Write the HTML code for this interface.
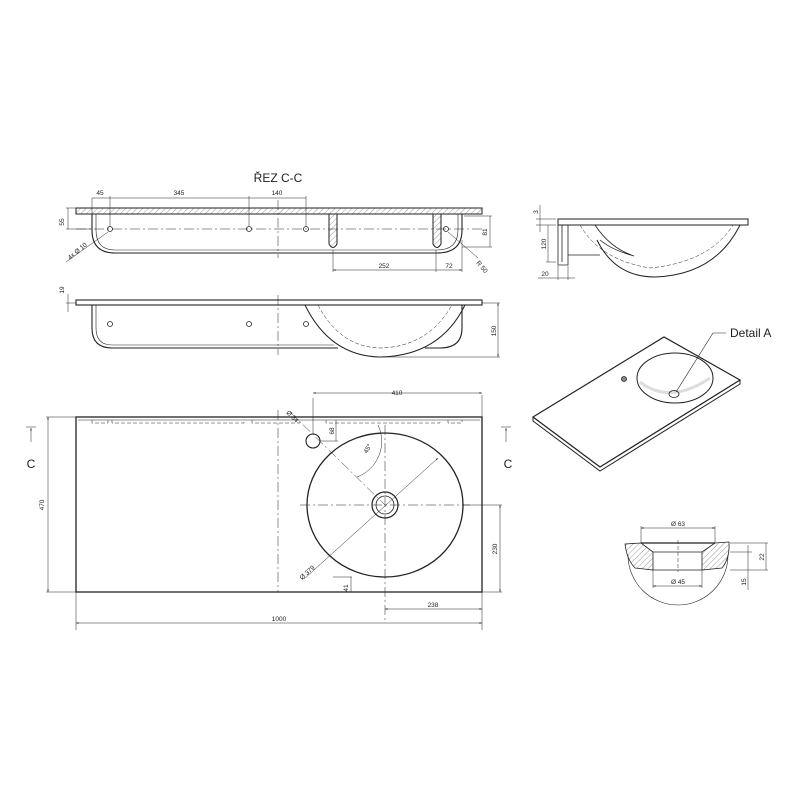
<!DOCTYPE html>
<html><head><meta charset="utf-8"><style>
html,body{margin:0;padding:0;background:#fff}
svg{display:block}
text{font-family:"Liberation Sans",sans-serif;fill:#222}
</style></head><body>
<svg width="800" height="800" viewBox="0 0 800 800" xmlns="http://www.w3.org/2000/svg">
<defs>
<pattern id="h" width="4" height="4" patternUnits="userSpaceOnUse" patternTransform="rotate(45)">
<line x1="0" y1="0" x2="0" y2="4" stroke="#555" stroke-width="0.6"/></pattern>
<marker id="a" viewBox="0 0 6 6" refX="6" refY="3" markerWidth="5" markerHeight="5" orient="auto-start-reverse"><path d="M0,1 L6,3 L0,5z" fill="#333"/></marker>
</defs>
<g fill="none" stroke="#222" stroke-width="0.8">
<!-- Section C-C -->
<text x="278" y="182" font-size="12" text-anchor="middle" stroke="none">ŘEZ C-C</text>
<rect x="76" y="208" width="406" height="6" fill="url(#h)" stroke-width="1"/>
<path d="M92,214 V230 Q92,253 115,253 H437 Q462,253 462,230 V214" stroke-width="1.1"/>
<path d="M96,214 V230 Q96,250 115,250 H437 Q458,250 458,230 V214" stroke-width="0.6"/>
<path d="M329,214 V244 Q333,251 337,244 V214 M433,214 V244 Q437,251 441,244 V214" fill="url(#h)" stroke-width="1"/>
<line x1="76" y1="229" x2="482" y2="229" stroke-dasharray="10,3,2,3" stroke-width="0.5"/>
<line x1="278" y1="200" x2="278" y2="258" stroke-dasharray="10,3,2,3" stroke-width="0.5"/>
<circle cx="110" cy="229" r="2.5"/><circle cx="249" cy="229" r="2.5"/><circle cx="306" cy="229" r="2.5"/><circle cx="446" cy="229" r="2.5"/>
<g stroke-width="0.5">
<line x1="92" y1="198" x2="92" y2="214"/><line x1="110" y1="196" x2="110" y2="226"/><line x1="249" y1="196" x2="249" y2="226"/><line x1="306" y1="196" x2="306" y2="226"/>
<line x1="92" y1="198" x2="306" y2="198"/>
<line x1="333" y1="250" x2="333" y2="272"/><line x1="436" y1="250" x2="436" y2="272"/><line x1="462" y1="240" x2="462" y2="272"/>
<line x1="333" y1="270" x2="462" y2="270" marker-start="url(#a)" marker-end="url(#a)"/>
<line x1="66" y1="208" x2="76" y2="208"/><line x1="66" y1="229" x2="92" y2="229"/><line x1="68" y1="208" x2="68" y2="229"/>
<line x1="464" y1="216" x2="492" y2="216"/><line x1="462" y1="247" x2="492" y2="247"/><line x1="490" y1="216" x2="490" y2="247"/>
<line x1="66" y1="262" x2="108" y2="232"/><line x1="448" y1="232" x2="478" y2="258"/>
</g>
<g stroke="none" font-size="6.5">
<text x="100" y="195" text-anchor="middle">45</text><text x="179" y="195" text-anchor="middle">345</text><text x="277" y="195" text-anchor="middle">140</text>
<text x="384" y="268" text-anchor="middle">252</text><text x="449" y="268" text-anchor="middle">72</text>
<text transform="translate(64,222) rotate(-90)" text-anchor="middle">55</text>
<text transform="translate(487,232) rotate(-90)" text-anchor="middle">81</text>
<text transform="translate(70,260) rotate(-40)">4x Ø 10</text>
<text transform="translate(476,263) rotate(50)">R 50</text>
</g>
<!-- Front view -->
<rect x="76" y="300" width="406" height="5" stroke-width="1.1"/>
<path d="M92,305 V328 Q92,348 112,348 H338 M425,348 H440 Q462,348 462,328 V305" stroke-width="1.1"/>
<path d="M96,305 V328 Q96,345 112,345 H334" stroke-width="0.6"/>
<path d="M305,305 Q330,356 380,357 Q440,356 465,305" stroke-width="1"/>
<path d="M318,305 Q340,347 380,348 Q428,347 452,305" stroke-dasharray="4,2" stroke-width="0.5"/>
<line x1="278" y1="295" x2="278" y2="355" stroke-dasharray="10,3,2,3" stroke-width="0.5"/>
<circle cx="110" cy="324" r="2.5"/><circle cx="249" cy="324" r="2.5"/><circle cx="306" cy="324" r="2.5"/>
<g stroke-width="0.5"><line x1="66" y1="303" x2="76" y2="303"/><line x1="68" y1="294" x2="68" y2="312"/>
<line x1="482" y1="303" x2="500" y2="303"/><line x1="380" y1="357" x2="500" y2="357"/><line x1="498" y1="303" x2="498" y2="357" marker-start="url(#a)" marker-end="url(#a)"/></g>
<g stroke="none" font-size="6.5"><text transform="translate(64,290) rotate(-90)" text-anchor="middle">19</text><text transform="translate(496,331) rotate(-90)" text-anchor="middle">150</text></g>
<!-- Plan view -->
<rect x="76" y="417" width="406" height="175" stroke-width="1.3"/>
<line x1="78" y1="420" x2="480" y2="420" stroke-width="0.6"/>
<path d="M92,420 V423 H108 V420 M112,420 V423 H244 V420 M252,420 V423 H300 V420 M326,420 V423 H440 V420 M448,420 V423 H462 V420" stroke-dasharray="4,2" stroke-width="0.5"/>
<line x1="278" y1="410" x2="278" y2="592" stroke-dasharray="10,3,2,3" stroke-width="0.5"/>
<ellipse cx="385" cy="505" rx="78" ry="72" stroke-width="1.3"/>
<circle cx="385" cy="505" r="13" stroke-width="1.2"/><circle cx="385" cy="505" r="9" stroke-width="0.8"/>
<circle cx="313" cy="441" r="7" stroke-width="1.1"/>
<g stroke-width="0.5">
<line x1="300" y1="505" x2="470" y2="505" stroke-dasharray="10,3,2,3"/><line x1="385" y1="425" x2="385" y2="620" stroke-dasharray="10,3,2,3"/>
<line x1="290" y1="412" x2="385" y2="505" stroke-dasharray="10,3,2,3"/>
<line x1="304" y1="579" x2="438" y2="458" marker-end="url(#a)"/>
<path d="M357,477 A38,38 0 0 0 378,425"/>
<line x1="313" y1="398" x2="313" y2="434"/><line x1="482" y1="395" x2="482" y2="417"/><line x1="313" y1="393" x2="482" y2="393" marker-start="url(#a)" marker-end="url(#a)"/>
<line x1="320" y1="441" x2="338" y2="441"/><line x1="336" y1="420" x2="336" y2="441"/>
<line x1="333" y1="577" x2="352" y2="577"/><line x1="351" y1="577" x2="351" y2="592"/>
<line x1="462" y1="505" x2="502" y2="505"/><line x1="482" y1="592" x2="502" y2="592"/><line x1="500" y1="505" x2="500" y2="592" marker-start="url(#a)" marker-end="url(#a)"/>
<line x1="482" y1="592" x2="482" y2="630"/><line x1="385" y1="609" x2="482" y2="609" marker-start="url(#a)" marker-end="url(#a)"/>
<line x1="76" y1="592" x2="76" y2="630"/><line x1="76" y1="623" x2="482" y2="623" marker-start="url(#a)" marker-end="url(#a)"/>
<line x1="46" y1="417" x2="76" y2="417"/><line x1="46" y1="592" x2="76" y2="592"/><line x1="48" y1="417" x2="48" y2="592" marker-start="url(#a)" marker-end="url(#a)"/>
<line x1="26" y1="427" x2="36" y2="427"/><line x1="31" y1="442" x2="31" y2="428" marker-end="url(#a)"/>
<line x1="501" y1="427" x2="511" y2="427"/><line x1="506" y1="442" x2="506" y2="428" marker-end="url(#a)"/>
</g>
<g stroke="none" font-size="6.5">
<text x="397" y="395" text-anchor="middle">410</text><text x="279" y="621" text-anchor="middle">1000</text><text x="433" y="607" text-anchor="middle">238</text>
<text transform="translate(44,505) rotate(-90)" text-anchor="middle">470</text>
<text transform="translate(497,549) rotate(-90)" text-anchor="middle">230</text>
<text transform="translate(334,431) rotate(-90)" text-anchor="middle">68</text>
<text transform="translate(348,588) rotate(-90)" text-anchor="middle">41</text>
<text transform="translate(302,580) rotate(-42)">Ø 379</text>
<text transform="translate(367,454) rotate(-60)">45°</text>
<text transform="translate(286,413) rotate(45)">Ø 34</text>
<text x="31" y="468" font-size="12" text-anchor="middle">C</text><text x="508" y="468" font-size="12" text-anchor="middle">C</text>
</g>
<!-- Side view -->
<rect x="558" y="219" width="190" height="6" stroke-width="1"/>
<path d="M558,225 V265 H568 V225 M562,225 V262" stroke-width="0.8"/>
<path d="M568,255 H600" stroke-width="0.7"/>
<path d="M595,225 Q610,248 634,256 Q612,250 600,240" stroke-width="0.8"/>
<path d="M597,240 Q615,277 655,277 Q715,275 740,225" stroke-width="1"/>
<path d="M580,225 Q600,260 650,268 Q710,262 733,225" stroke-dasharray="4,2" stroke-width="0.5"/>
<g stroke-width="0.5"><line x1="536" y1="219" x2="556" y2="219"/><line x1="536" y1="225" x2="556" y2="225"/><line x1="540" y1="205" x2="540" y2="232"/>
<line x1="546" y1="262" x2="556" y2="262"/><line x1="548" y1="225" x2="548" y2="262"/>
<line x1="558" y1="266" x2="558" y2="280"/><line x1="568" y1="266" x2="568" y2="280"/><line x1="538" y1="278" x2="575" y2="278"/></g>
<g stroke="none" font-size="6.5"><text transform="translate(538,212) rotate(-90)" text-anchor="middle">3</text><text transform="translate(546,244) rotate(-90)" text-anchor="middle">120</text><text x="545" y="276" text-anchor="middle">20</text></g>
<!-- Iso -->
<path d="M533,417 L664,337 L740,380 L600,467 Z" stroke-width="1.2"/>
<path d="M533,417 L533,421 L600,471 L740,384 L740,380" stroke-width="1"/>
<ellipse cx="675" cy="378" rx="38" ry="25" stroke-width="1"/>
<path d="M640,382 Q670,405 710,378" stroke="#bbb" stroke-width="3" opacity="0.5"/>
<ellipse cx="674" cy="394" rx="5" ry="3.5"/>
<circle cx="624" cy="379" r="2.5" fill="#888"/>
<path d="M676,392 L713,333 H726" stroke-width="0.6"/>
<text x="730" y="337" font-size="12" stroke="none">Detail A</text>
<!-- Detail A -->
<path d="M628,555 A50,50 0 0 0 728,555" stroke-width="0.6"/>
<path d="M625,544 L641,543 L653,552 V570 L635,568 Q627,560 625,544 Z" fill="url(#h)" stroke-width="0.8"/>
<path d="M729,542 L715,543 L702,552 V570 L722,568 Q730,558 729,542 Z" fill="url(#h)" stroke-width="0.8"/>
<line x1="641" y1="543" x2="715" y2="543" stroke-width="1.2"/>
<line x1="653" y1="552" x2="702" y2="552"/>
<line x1="653" y1="570" x2="702" y2="570"/>
<line x1="678" y1="540" x2="678" y2="572" stroke-dasharray="4,2" stroke-width="0.5"/>
<g stroke-width="0.5"><line x1="641" y1="526" x2="641" y2="543"/><line x1="715" y1="526" x2="715" y2="543"/><line x1="641" y1="528" x2="715" y2="528" marker-start="url(#a)" marker-end="url(#a)"/>
<line x1="653" y1="570" x2="653" y2="588"/><line x1="702" y1="570" x2="702" y2="588"/><line x1="653" y1="586" x2="702" y2="586" marker-start="url(#a)" marker-end="url(#a)"/>
<line x1="730" y1="543" x2="768" y2="543"/><line x1="730" y1="552" x2="752" y2="552"/><line x1="730" y1="570" x2="768" y2="570"/>
<line x1="766" y1="543" x2="766" y2="570"/><line x1="748" y1="545" x2="748" y2="590"/></g>
<g stroke="none" font-size="6.5"><text x="678" y="526" text-anchor="middle">Ø 63</text><text x="678" y="584" text-anchor="middle">Ø 45</text>
<text transform="translate(764,557) rotate(-90)" text-anchor="middle">22</text><text transform="translate(746,582) rotate(-90)" text-anchor="middle">15</text></g>
</g>
</svg>
</body></html>
